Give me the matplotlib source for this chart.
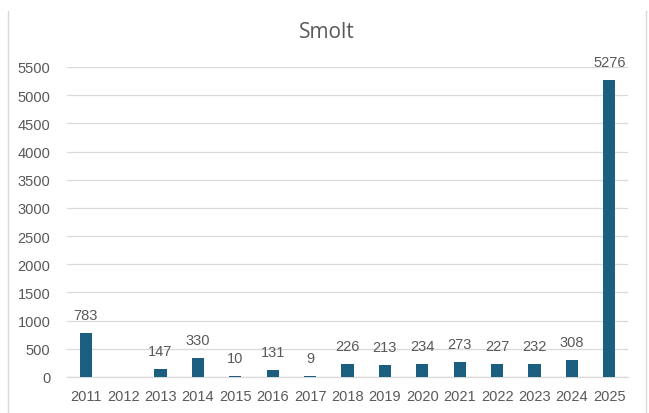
import matplotlib
matplotlib.use("Agg")
import matplotlib.pyplot as plt
from matplotlib.lines import Line2D

years = ["2011", "2012", "2013", "2014", "2015", "2016", "2017", "2018",
         "2019", "2020", "2021", "2022", "2023", "2024", "2025"]
smolt = [783, None, 147, 330, 10, 131, 9, 226, 213, 234, 273, 227, 232, 308, 5276]
yticks = [0, 500, 1000, 1500, 2000, 2500, 3000, 3500, 4000, 4500, 5000, 5500]

bar_color = "#1B5E80"
text_color = "#595959"
grid_color = "#D9D9D9"

plt.rcParams['font.family'] = ['Liberation Sans', 'DejaVu Sans']

fig = plt.figure(figsize=(6.49, 4.14), dpi=100)
ax = fig.add_axes([67/649, 1 - 378/414, 561/649, 310/414])

xs = list(range(len(years)))
vals = [v if v is not None else 0 for v in smolt]
bars = ax.bar(xs, vals, width=0.33, color=bar_color, zorder=3)
for x, v in zip(xs, smolt):
    if v is None:
        continue
    ax.annotate(str(v), (x, v), xytext=(0, 8), textcoords="offset points",
                ha="center", va="bottom", fontsize=10.5, color=text_color)

ax.set_xlim(-0.5, len(years) - 0.5)
ax.set_ylim(0, 5500)
ax.set_yticks(yticks)
ax.set_yticklabels([str(t) for t in yticks])
ax.set_xticks(xs)
ax.set_xticklabels(years)
ax.tick_params(axis="both", length=0, labelsize=10.5, labelcolor=text_color)
ax.tick_params(axis="y", pad=12)
ax.tick_params(axis="x", pad=9)
ax.grid(axis="y", color=grid_color, linewidth=0.9, zorder=0)
for s in ["top", "right", "left"]:
    ax.spines[s].set_visible(False)
ax.spines["bottom"].set_color(grid_color)
ax.spines["bottom"].set_linewidth(0.9)

fig.text(327/649, 1 - 32/414, "Smolt", ha="center", va="center",
         fontsize=15, color=text_color, family=["Open Sans", "DejaVu Sans"])

# chart frame edges
fig.add_artist(Line2D([8/649, 8/649], [0, 1 - 12/414], color="#D9D9D9", linewidth=1))
fig.add_artist(Line2D([646/649, 646/649], [0, 1 - 12/414], color="#D9D9D9", linewidth=1))

fig.savefig("out.png", dpi=100, facecolor="white")
